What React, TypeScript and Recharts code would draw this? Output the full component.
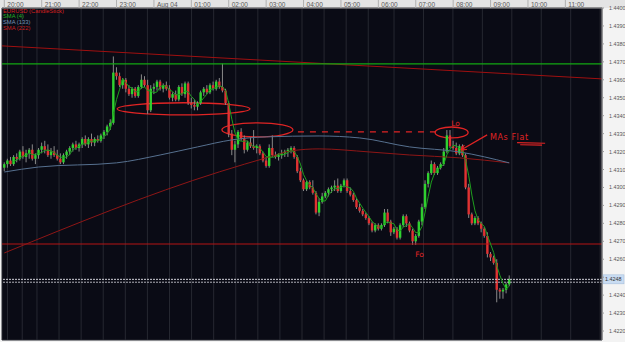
import React from 'react';
import {
  ComposedChart, Bar, Line, XAxis, YAxis, CartesianGrid,
  ReferenceLine, ReferenceArea, ReferenceDot,
} from 'recharts';

// 5-minute EURUSD candles starting 20:00 (index 0)
const openP = [
  1.4311,1.4313,1.4315,1.4313,1.4317,1.4316,1.4320,1.4317,1.4319,1.4321,
  1.4316,1.4318,1.4321,1.4323,1.4321,1.4318,1.4320,1.4318,1.4316,1.4314,
  1.4318,1.4320,1.4322,1.4324,1.4322,1.4324,1.4327,1.4324,1.4327,1.4325,
  1.4327,1.4326,1.4329,1.4331,1.4334,1.4336,1.4364,1.4362,1.4357,1.4360,
  1.4355,1.4352,1.4355,1.4351,1.4356,1.4360,1.4357,1.4343,1.4355,1.4356,
  1.4359,1.4355,1.4357,1.4355,1.4350,1.4352,1.4349,1.4356,1.4352,1.4358,
  1.4347,1.4346,1.4345,1.4347,1.4353,1.4355,1.4353,1.4357,1.4355,1.4359,
  1.4356,1.4354,1.4347,1.4330,1.4321,1.4324,1.4331,1.4327,1.4321,1.4325,
  1.4323,1.4322,1.4323,1.4319,1.4315,1.4312,1.4322,1.4318,1.4317,1.4318,
  1.4319,1.4320,1.4321,1.4322,1.4317,1.4309,1.4304,1.4299,1.4303,1.4300,
  1.4297,1.4286,1.4292,1.4295,1.4297,1.4299,1.4300,1.4301,1.4298,1.4301,
  1.4304,1.4298,1.4296,1.4293,1.4289,1.4287,1.4285,1.4283,1.4280,1.4276,
  1.4279,1.4277,1.4279,1.4286,1.4281,1.4275,1.4277,1.4272,1.4279,1.4284,
  1.4280,1.4276,1.4270,1.4273,1.4281,1.4289,1.4302,1.4308,1.4313,1.4308,
  1.4311,1.4313,1.4320,1.4329,1.4323,1.4322,1.4319,1.4323,1.4318,1.4300,
  1.4285,1.4280,1.4283,1.4280,1.4277,1.4273,1.4263,1.4261,1.4258,1.4243,
  1.4242,1.4243,1.4246,
];
const highP = [
  1.4314,1.4316,1.4317,1.4318,1.4319,1.4321,1.4323,1.4321,1.4322,1.4324,
  1.4319,1.4322,1.4325,1.4326,1.4324,1.4322,1.4323,1.4321,1.4319,1.4319,
  1.4321,1.4323,1.4325,1.4326,1.4325,1.4328,1.4329,1.4328,1.4330,1.4328,
  1.4329,1.4330,1.4332,1.4335,1.4338,1.4373,1.4367,1.4364,1.4361,1.4361,
  1.4357,1.4356,1.4356,1.4357,1.4363,1.4362,1.4360,1.4357,1.4358,1.4360,
  1.4360,1.4358,1.4359,1.4357,1.4353,1.4354,1.4357,1.4358,1.4359,1.4359,
  1.4350,1.4349,1.4348,1.4354,1.4356,1.4357,1.4358,1.4359,1.4360,1.4361,
  1.4369,1.4355,1.4348,1.4332,1.4326,1.4332,1.4333,1.4329,1.4326,1.4328,
  1.4332,1.4324,1.4324,1.4320,1.4317,1.4324,1.4329,1.4320,1.4319,1.4321,
  1.4321,1.4322,1.4323,1.4323,1.4318,1.4311,1.4305,1.4304,1.4304,1.4304,
  1.4298,1.4294,1.4297,1.4298,1.4300,1.4301,1.4304,1.4305,1.4302,1.4305,
  1.4305,1.4300,1.4297,1.4294,1.4291,1.4288,1.4286,1.4284,1.4281,1.4280,
  1.4280,1.4280,1.4288,1.4288,1.4282,1.4278,1.4278,1.4280,1.4285,1.4285,
  1.4281,1.4277,1.4274,1.4282,1.4291,1.4304,1.4309,1.4315,1.4314,1.4312,
  1.4314,1.4322,1.4332,1.4332,1.4326,1.4325,1.4324,1.4324,1.4319,1.4302,
  1.4286,1.4284,1.4284,1.4281,1.4278,1.4275,1.4264,1.4262,1.4260,1.4244,
  1.4244,1.4247,1.4251,
];
const lowP = [
  1.4309,1.4311,1.4312,1.4312,1.4314,1.4315,1.4316,1.4314,1.4316,1.4315,
  1.4313,1.4316,1.4319,1.4319,1.4317,1.4316,1.4317,1.4315,1.4313,1.4313,
  1.4316,1.4318,1.4320,1.4321,1.4320,1.4322,1.4323,1.4322,1.4323,1.4323,
  1.4325,1.4325,1.4327,1.4329,1.4332,1.4335,1.4360,1.4356,1.4355,1.4353,
  1.4351,1.4350,1.4350,1.4350,1.4355,1.4356,1.4341,1.4342,1.4352,1.4354,
  1.4354,1.4353,1.4354,1.4349,1.4348,1.4348,1.4348,1.4351,1.4350,1.4346,
  1.4344,1.4343,1.4343,1.4346,1.4351,1.4352,1.4352,1.4354,1.4354,1.4355,
  1.4353,1.4346,1.4328,1.4318,1.4314,1.4322,1.4326,1.4319,1.4320,1.4322,
  1.4321,1.4319,1.4318,1.4314,1.4311,1.4311,1.4317,1.4316,1.4315,1.4316,
  1.4317,1.4317,1.4319,1.4316,1.4308,1.4303,1.4298,1.4298,1.4299,1.4296,
  1.4285,1.4284,1.4291,1.4294,1.4295,1.4297,1.4298,1.4297,1.4297,1.4300,
  1.4297,1.4295,1.4292,1.4288,1.4286,1.4284,1.4282,1.4279,1.4275,1.4275,
  1.4276,1.4276,1.4278,1.4280,1.4273,1.4274,1.4271,1.4271,1.4278,1.4278,
  1.4275,1.4268,1.4268,1.4272,1.4279,1.4288,1.4300,1.4307,1.4307,1.4307,
  1.4310,1.4312,1.4319,1.4322,1.4321,1.4318,1.4318,1.4317,1.4299,1.4283,
  1.4279,1.4279,1.4279,1.4275,1.4272,1.4261,1.4259,1.4257,1.4236,1.4238,
  1.4238,1.4241,1.4245,
];
const closeP = [
  1.4313,1.4315,1.4313,1.4317,1.4316,1.4320,1.4317,1.4319,1.4321,1.4316,
  1.4318,1.4321,1.4323,1.4321,1.4318,1.4320,1.4318,1.4316,1.4314,1.4318,
  1.4320,1.4322,1.4324,1.4322,1.4324,1.4327,1.4324,1.4327,1.4325,1.4327,
  1.4326,1.4329,1.4331,1.4334,1.4336,1.4364,1.4362,1.4357,1.4360,1.4355,
  1.4352,1.4355,1.4351,1.4356,1.4360,1.4357,1.4343,1.4355,1.4356,1.4359,
  1.4355,1.4357,1.4355,1.4350,1.4352,1.4349,1.4356,1.4352,1.4358,1.4347,
  1.4346,1.4345,1.4347,1.4353,1.4355,1.4353,1.4357,1.4355,1.4359,1.4356,
  1.4354,1.4347,1.4330,1.4321,1.4324,1.4331,1.4327,1.4321,1.4325,1.4323,
  1.4322,1.4323,1.4319,1.4315,1.4312,1.4322,1.4318,1.4317,1.4318,1.4319,
  1.4320,1.4321,1.4322,1.4317,1.4309,1.4304,1.4299,1.4303,1.4300,1.4297,
  1.4286,1.4292,1.4295,1.4297,1.4299,1.4300,1.4301,1.4298,1.4301,1.4304,
  1.4298,1.4296,1.4293,1.4289,1.4287,1.4285,1.4283,1.4280,1.4276,1.4279,
  1.4277,1.4279,1.4286,1.4281,1.4275,1.4277,1.4272,1.4279,1.4284,1.4280,
  1.4276,1.4270,1.4273,1.4281,1.4289,1.4302,1.4308,1.4313,1.4308,1.4311,
  1.4313,1.4320,1.4329,1.4323,1.4322,1.4319,1.4323,1.4318,1.4300,1.4285,
  1.4280,1.4283,1.4280,1.4277,1.4273,1.4263,1.4261,1.4258,1.4243,1.4242,
  1.4243,1.4246,1.4249,
];

// Long moving averages at a few candle indices
const sma133Idx = [0, 11, 36, 50, 62, 73, 84, 101, 114, 130, 146, 162];
const sma133Val = [1.43086, 1.43114, 1.43137, 1.43181, 1.43226, 1.43265, 1.43282, 1.43287, 1.43276, 1.43226, 1.43198, 1.43137];
const sma222Idx = [0, 69, 85, 92, 101, 117, 130, 146, 162];
const sma222Val = [1.42635, 1.43087, 1.43170, 1.43204, 1.43215, 1.43198, 1.43181, 1.43165, 1.43137];

// Axis ticks
const hourIdx = [0, 12, 24, 36, 48, 60, 72, 84, 96, 108, 120, 132, 144, 156, 168, 180];
const hourLabels = ['20:00', '21:00', '22:00', '23:00', 'Aug 04', '01:00', '02:00', '03:00', '04:00', '05:00', '06:00', '07:00', '08:00', '09:00', '10:00', '11:00'];
const priceTicks = [1.422, 1.423, 1.424, 1.425, 1.426, 1.427, 1.428, 1.429, 1.43, 1.431, 1.432, 1.433, 1.434, 1.435, 1.436, 1.437, 1.438, 1.439, 1.44];
const hiddenTick = 1.425; // covered by the last-price box

// Horizontal levels and trendline (price values)
const greenLevel = 1.43689;
const redLevel = 1.42685;
const bidLevel = 1.42488;
const askLevel = 1.42472;
const lastPrice = '1.4248';
const trendTop = [{ i: -0.74, p: 1.43789 }, { i: 191.75, p: 1.43605 }];

const X_DOMAIN = [-0.74, 191.75];
const Y_DOMAIN = [1.4215, 1.44];

const rows = closeP.map((c, i) => {
  let sma4 = null;
  if (i >= 3) sma4 = (closeP[i] + closeP[i - 1] + closeP[i - 2] + closeP[i - 3]) / 4;
  const k1 = sma133Idx.indexOf(i);
  const k2 = sma222Idx.indexOf(i);
  return {
    i,
    open: openP[i], high: highP[i], low: lowP[i], close: c,
    range: [lowP[i], highP[i]],
    sma4,
    sma133: k1 >= 0 ? sma133Val[k1] : null,
    sma222: k2 >= 0 ? sma222Val[k2] : null,
  };
});

const RED = '#e02424';

const Candle = (props: any) => {
  const { x, y, width, height, payload } = props;
  if (!payload || payload.high == null) return null;
  const top = Math.min(y, y + height);
  const bot = Math.max(y, y + height);
  const span = payload.high - payload.low;
  const toY = (v: number) => (span > 0 ? top + ((payload.high - v) / span) * (bot - top) : top);
  const cx = x + width / 2;
  const yo = toY(payload.open);
  const yc = toY(payload.close);
  const color = payload.close > payload.open ? '#2fd22f' : payload.close < payload.open ? '#e03232' : '#9a9a9a';
  const bt = Math.min(yo, yc);
  const bh = Math.max(1, Math.abs(yc - yo));
  return (
    <g>
      <line x1={cx} x2={cx} y1={top} y2={bot} stroke="#8a8a8a" strokeWidth={1} />
      <rect x={cx - 1.2} y={bt} width={2.4} height={bh} fill={color} />
    </g>
  );
};

const Ellipse = (p: any) => (
  <ellipse cx={p.x + p.width / 2} cy={p.y + p.height / 2} rx={Math.abs(p.width) / 2} ry={Math.abs(p.height) / 2}
    fill="none" stroke={RED} strokeWidth={1.3} />
);

const Arrow = (p: any) => {
  const { x1, y1, x2, y2 } = p;
  const ang = Math.atan2(y2 - y1, x2 - x1);
  const L = 6;
  const a1 = ang + Math.PI - 0.45;
  const a2 = ang + Math.PI + 0.45;
  return (
    <g stroke={RED} strokeWidth={1.2} fill="none">
      <line x1={x1} y1={y1} x2={x2} y2={y2} />
      <line x1={x2} y1={y2} x2={x2 + L * Math.cos(a1)} y2={y2 + L * Math.sin(a1)} />
      <line x1={x2} y1={y2} x2={x2 + L * Math.cos(a2)} y2={y2 + L * Math.sin(a2)} />
    </g>
  );
};

const textShape = (label: string, size: number, spacing = 0) => (p: any) => (
  <text x={p.cx} y={p.cy} fill={RED} fontSize={size} fontFamily="'DejaVu Sans', sans-serif" letterSpacing={spacing}>
    {label}
  </text>
);

const TopTick = (props: any) => {
  const { x, payload } = props;
  const k = hourIdx.indexOf(payload.value);
  return (
    <text x={x + 3} y={6.5} fontSize={6.5} fill="#5a5a5a" fontFamily="'Liberation Sans', Arial, sans-serif">
      {k >= 0 ? hourLabels[k] : ''}
    </text>
  );
};

const RightTick = (props: any) => {
  const { x, y, payload } = props;
  if (Math.abs(payload.value - hiddenTick) < 1e-7) return <g />;
  return (
    <text x={x + 3} y={y + 2} fontSize={5.4} fill="#555" fontFamily="'Liberation Sans', Arial, sans-serif">
      {Number(payload.value).toFixed(4)}
    </text>
  );
};

const PriceBox = (props: any) => {
  const vb = props.viewBox || {};
  const x = (vb.x || 0) + (vb.width || 0);
  const y = vb.y || 0;
  return (
    <g>
      <rect x={x + 1} y={y - 4.5} width={21} height={9} fill="#c9dcf2" stroke="#9fb8d8" strokeWidth={0.5} />
      <text x={x + 3} y={y + 2} fontSize={5.4} fill="#333" fontFamily="'Liberation Sans', Arial, sans-serif">{lastPrice}</text>
    </g>
  );
};

const legendItems = [
  { text: 'EURUSD (CandleStick)', color: '#d42020' },
  { text: 'SMA (4)', color: '#22b022' },
  { text: 'SMA (133)', color: '#7493b8' },
  { text: 'SMA (222)', color: '#c82020' },
];

export default function App() {
  return (
    <div style={{ position: 'fixed', left: 0, top: 0, width: 625, height: 342, background: '#f3f3f3', overflow: 'hidden' }}>
      <div style={{ position: 'absolute', left: 0, top: 0, width: 625, height: 8, background: '#e4e4e4' }} />
      <ComposedChart width={625} height={342} data={rows} margin={{ top: 0, right: 0, bottom: 2, left: 2 }}>
        <CartesianGrid fill="#0a0b15" stroke="#262831" strokeWidth={1} />
        <XAxis
          xAxisId="x" dataKey="i" type="number" orientation="top" height={8}
          domain={X_DOMAIN} allowDataOverflow ticks={hourIdx} interval={0}
          tick={<TopTick />} tickSize={8} tickLine={{ stroke: '#b0b0b0' }} axisLine={{ stroke: '#9a9a9a' }}
        />
        <YAxis
          yAxisId="y" type="number" orientation="right" width={23}
          domain={Y_DOMAIN} allowDataOverflow ticks={priceTicks} interval={0}
          tick={<RightTick />} tickSize={2} tickLine={{ stroke: '#999' }} axisLine={{ stroke: '#9a9a9a' }}
        />

        <ReferenceLine xAxisId="x" yAxisId="y" ifOverflow="hidden"
          segment={[{ x: trendTop[0].i, y: trendTop[0].p }, { x: trendTop[1].i, y: trendTop[1].p }]}
          stroke="#a01010" strokeWidth={1} />
        <ReferenceLine xAxisId="x" yAxisId="y" y={greenLevel} stroke="#12a812" strokeWidth={1.2} />
        <ReferenceLine xAxisId="x" yAxisId="y" y={redLevel} stroke="#b41414" strokeWidth={1.2} />
        <ReferenceLine xAxisId="x" yAxisId="y" y={bidLevel} stroke="#d0d0d8" strokeWidth={1} strokeDasharray="2 1" label={<PriceBox />} />
        <ReferenceLine xAxisId="x" yAxisId="y" y={askLevel} stroke="#b0b0b8" strokeWidth={1} strokeDasharray="2 1" />

        <Line xAxisId="x" yAxisId="y" dataKey="sma222" type="monotone" connectNulls stroke="#8e1616" strokeWidth={1} dot={false} isAnimationActive={false} />
        <Line xAxisId="x" yAxisId="y" dataKey="sma133" type="monotone" connectNulls stroke="#56708f" strokeWidth={1} dot={false} isAnimationActive={false} />

        <Bar xAxisId="x" yAxisId="y" dataKey="range" barSize={3} shape={<Candle />} isAnimationActive={false} />
        <Line xAxisId="x" yAxisId="y" dataKey="sma4" type="linear" stroke="#1e9e1e" strokeWidth={1} dot={false} isAnimationActive={false} />

        {/* hand-drawn annotations */}
        <ReferenceArea xAxisId="x" yAxisId="y" x1={36.2} x2={78.8} y1={1.43404} y2={1.43472} shape={<Ellipse />} ifOverflow="visible" />
        <ReferenceArea xAxisId="x" yAxisId="y" x1={69.8} x2={92.6} y1={1.43282} y2={1.4336} shape={<Ellipse />} ifOverflow="visible" />
        <ReferenceArea xAxisId="x" yAxisId="y" x1={138.2} x2={148.8} y1={1.43276} y2={1.43337} shape={<Ellipse />} ifOverflow="visible" />
        <ReferenceLine xAxisId="x" yAxisId="y" segment={[{ x: 94.2, y: 1.4331 }, { x: 138.6, y: 1.4331 }]}
          stroke={RED} strokeWidth={1.3} strokeDasharray="6 6" />
        <ReferenceLine xAxisId="x" yAxisId="y" segment={[{ x: 154.9, y: 1.43293 }, { x: 146.5, y: 1.43209 }]} shape={<Arrow />} />
        <ReferenceLine xAxisId="x" yAxisId="y" segment={[{ x: 164.5, y: 1.43250 }, { x: 173.5, y: 1.43246 }]} stroke={RED} strokeWidth={1.1} />
        <ReferenceLine xAxisId="x" yAxisId="y" segment={[{ x: 165.5, y: 1.43238 }, { x: 172.5, y: 1.43236 }]} stroke={RED} strokeWidth={1.1} />
        <ReferenceDot xAxisId="x" yAxisId="y" x={143.4} y={1.43343} r={1} shape={textShape('Lo', 7.5)} ifOverflow="visible" />
        <ReferenceDot xAxisId="x" yAxisId="y" x={155.8} y={1.43263} r={1} shape={textShape('MAs Flat', 8, 0.6)} ifOverflow="visible" />
        <ReferenceDot xAxisId="x" yAxisId="y" x={131.8} y={1.42612} r={1} shape={textShape('Fo', 7.5)} ifOverflow="visible" />
      </ComposedChart>
      <div style={{ position: 'absolute', left: 3, top: 8.5, fontFamily: "'Liberation Sans', Arial, sans-serif", fontSize: 5.8, lineHeight: '5.9px' }}>
        {legendItems.map((it) => (
          <div key={it.text} style={{ color: it.color, whiteSpace: 'nowrap' }}>{it.text}</div>
        ))}
      </div>
    </div>
  );
}
